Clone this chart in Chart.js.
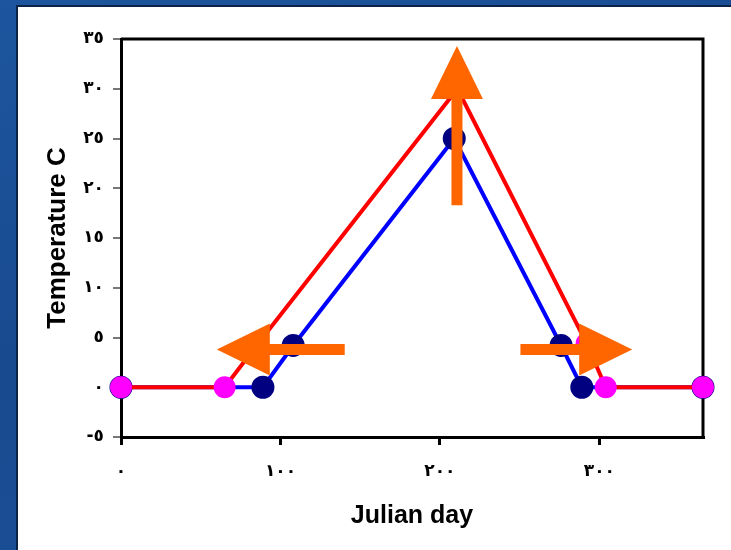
<!DOCTYPE html>
<html>
<head>
<meta charset="utf-8">
<script src="https://cdn.jsdelivr.net/npm/chart.js@4.4.1/dist/chart.umd.min.js"></script>
<style>
  html, body {
    margin: 0;
    padding: 0;
    width: 731px;
    height: 550px;
    overflow: hidden;
    background: linear-gradient(160deg, #1d569e 0%, #184a8f 45%, #1c5299 100%);
  }
  .slide-box {
    position: absolute;
    left: 16px;
    top: 5px;
    right: 0;
    bottom: 0;
    background: #ffffff;
    border-top: 2px solid #0b2346;
    border-left: 2px solid #0b2346;
  }
  #tempChart {
    position: absolute;
    left: 0;
    top: 0;
  }
</style>
</head>
<body>
<div class="slide-box"></div>
<canvas id="tempChart" width="731" height="550"></canvas>
<script>
// observed series (blue) and shifted series (red)
const blueDays = [0, 89, 108, 209, 276, 289, 365];
const blueTemps = [0, 0, 4.2, 25, 4.2, 0, 0];

const redDays = [0, 65, 86, 211, 292, 304, 365];
const redTemps = [0, 0, 4.4, 30, 4.4, 0, 0];

// tick labels, written with Arabic-Indic digits as in the slide
const xTickValues = [0, 100, 200, 300];
const xTickLabels = ["٠", "١٠٠", "٢٠٠", "٣٠٠"];
const yTickValues = [-5, 0, 5, 10, 15, 20, 25, 30, 35];
const yTickLabels = ["-٥", "٠", "٥", "١٠", "١٥", "٢٠", "٢٥", "٣٠", "٣٥"];

// orange arrows, tail and tip in data units [day, temp]
const arrowTails = [[210.7, 18.3], [140.3, 3.8], [250.5, 3.8]];
const arrowTips = [[210.7, 34.3], [60.1, 3.8], [320.6, 3.8]];

const toPoints = (xs, ys) => xs.map((x, i) => ({ x: x, y: ys[i] }));

const frameAndArrows = {
  id: "frameAndArrows",
  beforeDatasetsDraw(chart) {
    const { ctx, chartArea } = chart;
    ctx.save();
    ctx.strokeStyle = "#000";
    ctx.lineWidth = 3;
    ctx.beginPath();
    ctx.moveTo(chartArea.left, chartArea.top);
    ctx.lineTo(chartArea.right, chartArea.top);
    ctx.lineTo(chartArea.right, chartArea.bottom);
    ctx.stroke();
    ctx.restore();
  },
  afterDatasetsDraw(chart) {
    const { ctx } = chart;
    const xs = chart.scales.x;
    const ys = chart.scales.y;
    const headLen = 53;
    const headHalf = 26;
    const shaft = 11;
    ctx.save();
    ctx.fillStyle = "#ff6600";
    ctx.strokeStyle = "#ff6600";
    arrowTails.forEach((tail, i) => {
      const tip = arrowTips[i];
      const x0 = xs.getPixelForValue(tail[0]);
      const y0 = ys.getPixelForValue(tail[1]);
      const x1 = xs.getPixelForValue(tip[0]);
      const y1 = ys.getPixelForValue(tip[1]);
      const len = Math.hypot(x1 - x0, y1 - y0);
      const ux = (x1 - x0) / len;
      const uy = (y1 - y0) / len;
      const bx = x1 - ux * headLen;
      const by = y1 - uy * headLen;
      // shaft
      ctx.lineWidth = shaft;
      ctx.lineCap = "butt";
      ctx.beginPath();
      ctx.moveTo(x0, y0);
      ctx.lineTo(bx + ux, by + uy);
      ctx.stroke();
      // head
      ctx.beginPath();
      ctx.moveTo(x1, y1);
      ctx.lineTo(bx - uy * headHalf, by + ux * headHalf);
      ctx.lineTo(bx + uy * headHalf, by - ux * headHalf);
      ctx.closePath();
      ctx.fill();
    });
    ctx.restore();
  },
};

new Chart(document.getElementById("tempChart").getContext("2d"), {
  type: "line",
  data: {
    datasets: [
      {
        label: "Shifted",
        data: toPoints(redDays, redTemps),
        borderColor: "#ff0000",
        backgroundColor: "#ff00ff",
        pointBackgroundColor: "#ff00ff",
        pointBorderColor: "#ff00ff",
        pointRadius: 9,
        borderWidth: 4,
        tension: 0,
        clip: false,
        order: 0,
      },
      {
        label: "Observed",
        data: toPoints(blueDays, blueTemps),
        borderColor: "#0000ff",
        backgroundColor: "#000080",
        pointBackgroundColor: "#000080",
        pointBorderColor: "#000080",
        pointRadius: 9.5,
        borderWidth: 4,
        tension: 0,
        clip: false,
        order: 1,
      },
    ],
  },
  options: {
    responsive: false,
    animation: false,
    layout: {
      padding: { left: 0, top: 39, right: 28, bottom: 0 },
    },
    scales: {
      x: {
        type: "linear",
        min: 0,
        max: 365,
        afterBuildTicks: (scale) => {
          scale.ticks = xTickValues.map((v) => ({ value: v }));
        },
        afterFit: (scale) => {
          scale.height = 113;
        },
        ticks: {
          color: "#000",
          padding: 16,
          maxRotation: 0,
          autoSkip: false,
          font: { family: "DejaVu Sans", size: 17, weight: "bold" },
          callback: (value) => xTickLabels[xTickValues.indexOf(value)],
        },
        grid: {
          drawOnChartArea: false,
          drawTicks: true,
          tickLength: 8,
          color: "#000",
          lineWidth: 3,
        },
        border: { display: true, color: "#000", width: 3 },
        title: {
          display: true,
          text: "Julian day",
          color: "#000",
          font: { family: "Liberation Sans", size: 25, weight: "bold" },
          padding: { top: 0, bottom: 19 },
        },
      },
      y: {
        type: "linear",
        min: -5,
        max: 35,
        afterBuildTicks: (scale) => {
          scale.ticks = yTickValues.map((v) => ({ value: v }));
        },
        afterFit: (scale) => {
          scale.width = 121;
        },
        ticks: {
          color: "#000",
          padding: 9,
          autoSkip: false,
          font: { family: "DejaVu Sans", size: 17, weight: "bold" },
          callback: (value) => yTickLabels[yTickValues.indexOf(value)],
        },
        grid: {
          drawOnChartArea: false,
          drawTicks: true,
          tickLength: 8,
          color: "#777",
          lineWidth: 2,
        },
        border: { display: true, color: "#000", width: 3 },
        title: {
          display: true,
          text: "Temperature C",
          color: "#000",
          font: { family: "Liberation Sans", size: 26, weight: "bold" },
          padding: { top: 42, bottom: 0 },
        },
      },
    },
    plugins: {
      legend: { display: false },
      tooltip: { enabled: false },
    },
  },
  plugins: [frameAndArrows],
});
</script>
</body>
</html>
